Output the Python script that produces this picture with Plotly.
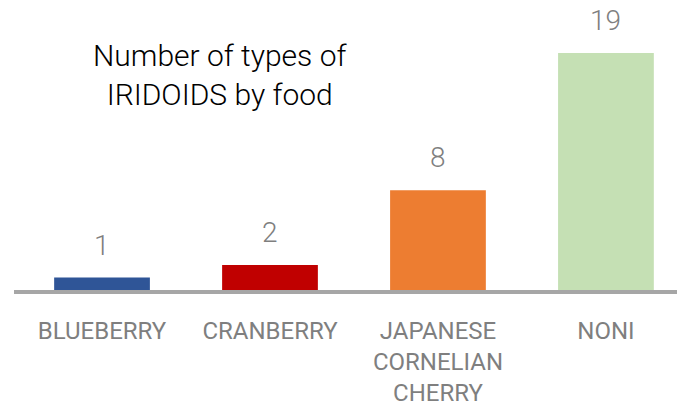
import plotly.graph_objects as go

categories = ["BLUEBERRY", "CRANBERRY", "JAPANESE<br>CORNELIAN<br>CHERRY", "NONI"]
values = [1, 2, 8, 19]
colors = ["#2f5597", "#c00000", "#ed7d31", "#c5e0b4"]
title_text = "Number of types of<br>IRIDOIDS by food"

FONT = "Roboto, Noto Sans, sans-serif"

fig = go.Figure()
fig.add_trace(go.Bar(
    x=list(range(len(categories))),
    y=values,
    marker=dict(color=colors, line=dict(width=0)),
    width=0.57,
    hoverinfo="skip",
))

annotations = []
for i, v in enumerate(values):
    annotations.append(dict(
        x=i, y=v, xref="x", yref="y", text=str(v), showarrow=False,
        yanchor="bottom", yshift=14,
        font=dict(family=FONT, size=28, color="#7f7f7f", weight=300),
    ))
annotations.append(dict(
    x=0.311, y=0.743, xref="paper", yref="paper", text=title_text, showarrow=False,
    xanchor="center", yanchor="middle", align="center",
    font=dict(family=FONT, size=30, color="#000000", weight=300),
))

fig.update_layout(
    width=677, height=409,
    margin=dict(l=14, r=0, t=0, b=119),
    paper_bgcolor="white", plot_bgcolor="white",
    showlegend=False,
    annotations=annotations,
    xaxis=dict(
        range=[-0.524, 3.423],
        tickmode="array", tickvals=list(range(len(categories))), ticktext=categories,
        showline=True, linecolor="#a6a6a6", linewidth=4,
        showgrid=False, zeroline=False, ticks="",
        tickfont=dict(family=FONT, size=24, color="#7f7f7f"),
        ticklabelstandoff=16,
        automargin=False,
        fixedrange=True,
    ),
    yaxis=dict(
        range=[0, 23.25], visible=False, showgrid=False, zeroline=False, fixedrange=True,
    ),
)

fig.write_html(
    "out.html",
    config={"displayModeBar": False},
    post_script="document.body.style.margin='0';",
)
